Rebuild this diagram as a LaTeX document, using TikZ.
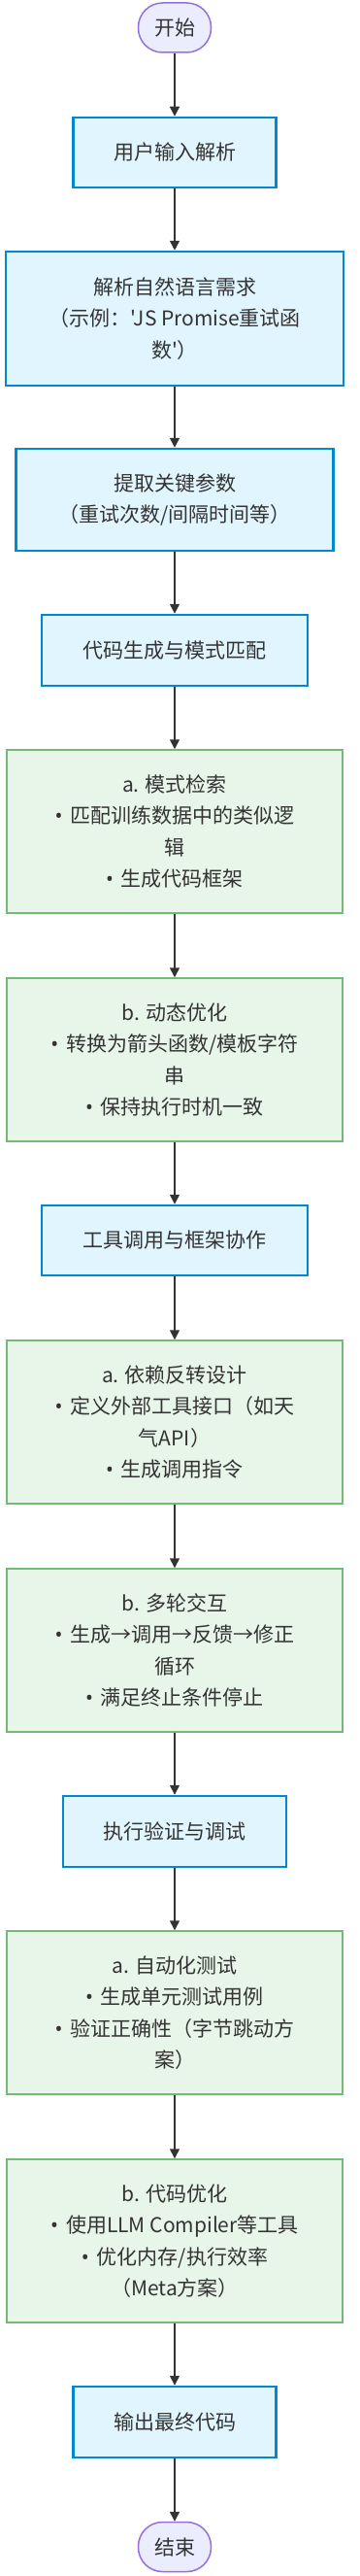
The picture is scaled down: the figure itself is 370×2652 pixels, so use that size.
\documentclass[tikz,border=0pt]{standalone}
\usepackage{fontspec}
\newfontfamily\cjk{Noto Sans CJK SC}
\newfontfamily\latfont{Noto Sans}
\newcommand\bul{{\latfont •}\kern8pt\relax}
\usetikzlibrary{arrows.meta}
\definecolor{txt}{HTML}{333333}
\definecolor{bluefill}{HTML}{E1F5FE}
\definecolor{bluestroke}{HTML}{0288D1}
\definecolor{greenfill}{HTML}{E8F5E9}
\definecolor{greenstroke}{HTML}{74B976}
\definecolor{purplefill}{HTML}{ECECFF}
\definecolor{purplestroke}{HTML}{9370DB}
\definecolor{linkc}{HTML}{333333}
\begin{document}
\begin{tikzpicture}[x=1pt,y=-1pt,
  base/.style={inner sep=0pt, align=center, text=txt, font=\cjk\fontsize{21}{32.5}\selectfont},
  termbox/.style={base, draw=purplestroke, fill=purplefill, line width=1.5pt, rounded corners=25pt, minimum width=75pt, minimum height=51pt},
  bluebox/.style={base, draw=bluestroke, fill=bluefill, line width=2.5pt},
  greenbox/.style={base, draw=greenstroke, fill=greenfill, line width=1.5pt, minimum width=346pt, minimum height=168pt},
  link/.style={draw=linkc, line width=1.5pt, -{Triangle[length=10pt,width=10pt]}}
]
\useasboundingbox (0,0) rectangle (370,2652);

\node[termbox] (start) at (180,28.5) {开始};
\node[bluebox, minimum width=209pt, minimum height=72pt] (b1) at (180,157) {用户输入解析};
\node[bluebox, minimum width=348pt, minimum height=138pt] (b2) at (180,328) {解析自然语言需求\\（示例：'JS Promise重试函\\数'）};
\node[bluebox, minimum width=327pt, minimum height=105pt] (b3) at (180,514.5) {提取关键参数\\（重试次数/间隔时间等）};
\node[bluebox, minimum width=274pt, minimum height=73pt] (b4) at (180,669.5) {代码生成与模式匹配};
\node[greenbox] (g1) at (180,856) {a. 模式检索\\\bul 匹配训练数据中的类似逻\\辑\\\bul 生成代码框架};
\node[greenbox] (g2) at (180,1091) {b. 动态优化\\\bul 转换为箭头函数/模板字符\\串\\\bul 保持执行时机一致};
\node[bluebox, minimum width=274pt, minimum height=72pt] (b5) at (180,1277) {工具调用与框架协作};
\node[greenbox] (g3) at (180,1464) {a. 依赖反转设计\\\bul 定义外部工具接口（如天\\气API）\\\bul 生成调用指令};
\node[greenbox] (g4) at (180,1699) {b. 多轮交互\\\bul 生成→调用→反馈→修正\\循环\\\bul 满足终止条件停止};
\node[bluebox, minimum width=230pt, minimum height=73pt] (b6) at (180,1885.5) {执行验证与调试};
\node[greenbox] (g5) at (180,2072) {a. 自动化测试\\\bul 生成单元测试用例\\\bul 验证正确性（字节跳动方\\案）};
\node[greenbox] (g6) at (180,2307) {b. 代码优化\\\bul 使用LLM Compiler等工具\\\bul 优化内存/执行效率\\（Meta方案）};
\node[bluebox, minimum width=209pt, minimum height=73pt] (b7) at (180,2493.5) {输出最终代码};
\node[termbox] (end) at (180,2622) {结束};

\foreach \a/\b in {start/b1, b1/b2, b2/b3, b3/b4, b4/g1, g1/g2, g2/b5, b5/g3, g3/g4, g4/b6, b6/g5, g5/g6, g6/b7, b7/end}
  \draw[link] (\a) -- (\b);
\end{tikzpicture}
\end{document}
